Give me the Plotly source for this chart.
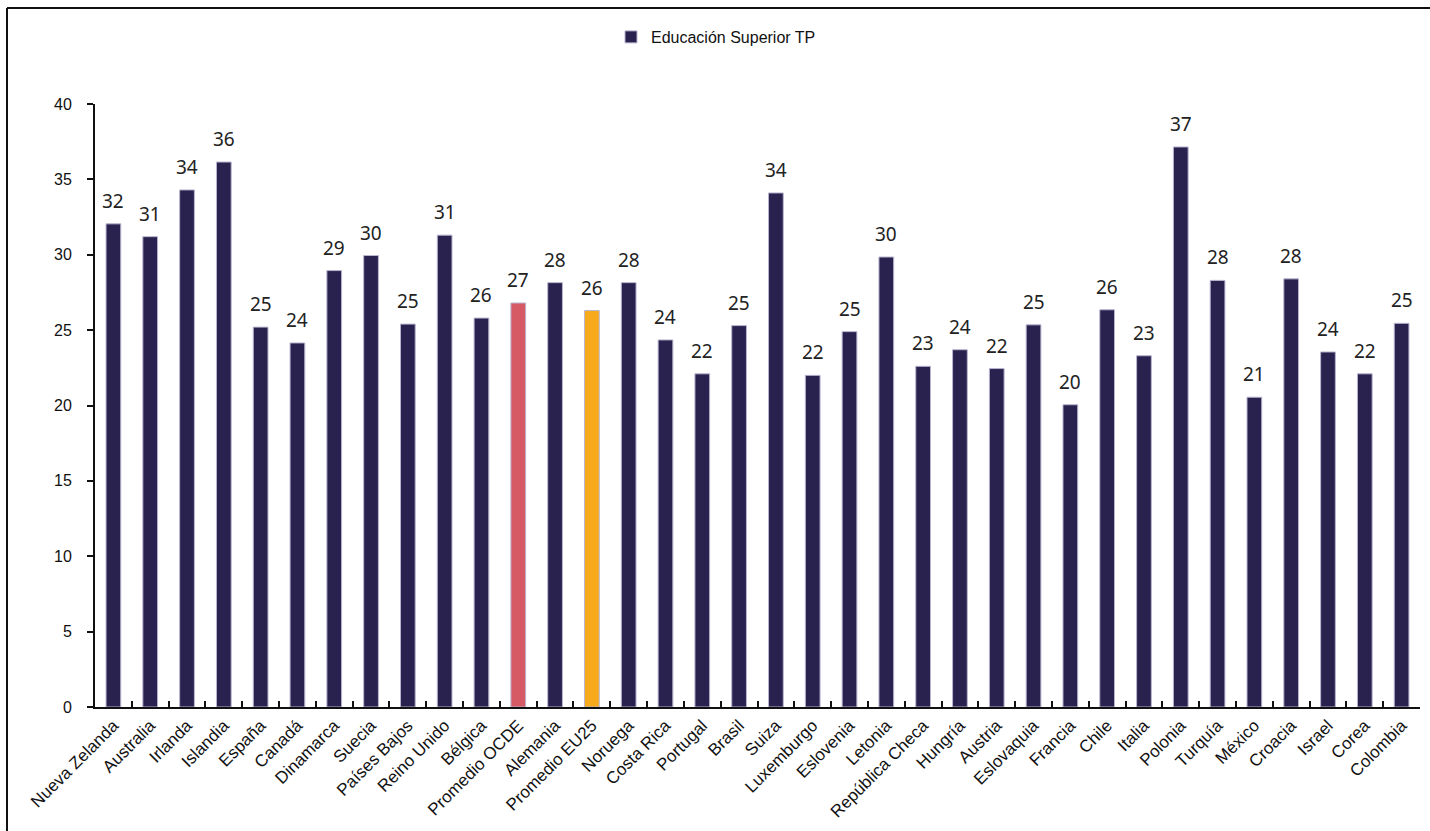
import plotly.graph_objects as go

# Tasa por país: Educación Superior TP
paises = [
    "Nueva Zelanda", "Australia", "Irlanda", "Islandia", "España", "Canadá",
    "Dinamarca", "Suecia", "Países Bajos", "Reino Unido", "Bélgica",
    "Promedio OCDE", "Alemania", "Promedio EU25", "Noruega", "Costa Rica",
    "Portugal", "Brasil", "Suiza", "Luxemburgo", "Eslovenia", "Letonia",
    "República Checa", "Hungría", "Austria", "Eslovaquia", "Francia", "Chile",
    "Italia", "Polonia", "Turquía", "México", "Croacia", "Israel", "Corea",
    "Colombia",
]
valores = [
    32.05, 31.2, 34.3, 36.15, 25.2, 24.15,
    28.95, 29.95, 25.4, 31.3, 25.8,
    26.8, 28.15, 26.3, 28.15, 24.35,
    22.1, 25.3, 34.1, 22.0, 24.9, 29.85,
    22.6, 23.7, 22.45, 25.35, 20.05, 26.35,
    23.3, 37.15, 28.3, 20.55, 28.4, 23.55, 22.1,
    25.45,
]
y_ticks = [0, 5, 10, 15, 20, 25, 30, 35, 40]

NAVY = "#29224f"
colores = []
for p in paises:
    if p == "Promedio OCDE":
        colores.append("#d65a65")
    elif p == "Promedio EU25":
        colores.append("#f6aa1c")
    else:
        colores.append(NAVY)

fig = go.Figure()
fig.add_trace(go.Bar(
    x=paises,
    y=valores,
    name="Educación Superior TP",
    marker=dict(color=colores, line=dict(color="#b9b5cf", width=1)),
    width=0.4,
    showlegend=True,
))

# etiquetas de valor sobre cada barra
for p, v in zip(paises, valores):
    fig.add_annotation(
        x=p, y=v, text=f"{v:.0f}", showarrow=False,
        yanchor="bottom", yshift=8,
        font=dict(family="Noto Sans, Open Sans, sans-serif", size=19, color="#222222"),
    )

L, R, T, B = 95, 10, 104, 124
W, H = 1430, 831
pw = W - L - R
ph = H - T - B

def px_x(px):
    return (px - L) / pw

def px_y(py):
    return (H - B - py) / ph

# marco exterior del gráfico
fig.add_shape(type="line", xref="paper", yref="paper",
              x0=px_x(7), x1=px_x(1445), y0=px_y(8), y1=px_y(8),
              line=dict(color="#111111", width=2))
fig.add_shape(type="line", xref="paper", yref="paper",
              x0=px_x(7), x1=px_x(7), y0=px_y(8), y1=px_y(845),
              line=dict(color="#111111", width=2))

fig.update_layout(
    width=W, height=H,
    margin=dict(l=L, r=R, t=T, b=B),
    paper_bgcolor="white",
    plot_bgcolor="white",
    bargap=0.6,
    legend=dict(
        orientation="h", x=px_x(716), xanchor="center", y=px_y(37), yanchor="middle",
        font=dict(family="Liberation Sans Narrow, Arial Narrow, Liberation Sans, Arial", size=16, color="#111111"),
        itemwidth=30,
    ),
    xaxis=dict(
        type="category",
        range=[-0.5, len(paises) - 0.5],
        showline=True, linecolor="#111111", linewidth=2,
        ticks="inside", tickson="boundaries", ticklen=6, tickwidth=2, tickcolor="#111111",
        tickangle=-45,
        tickfont=dict(family="Liberation Sans, Arial", size=17, color="#111111"),
        showgrid=False, zeroline=False,
    ),
    yaxis=dict(
        range=[0, 40],
        tickvals=y_ticks,
        showline=True, linecolor="#111111", linewidth=2,
        ticks="outside", ticklen=6, tickwidth=2, tickcolor="#111111",
        ticklabelstandoff=12,
        tickfont=dict(family="Liberation Sans, Arial", size=16, color="#111111"),
        showgrid=False, zeroline=False,
    ),
)

fig.write_html("out.html")
